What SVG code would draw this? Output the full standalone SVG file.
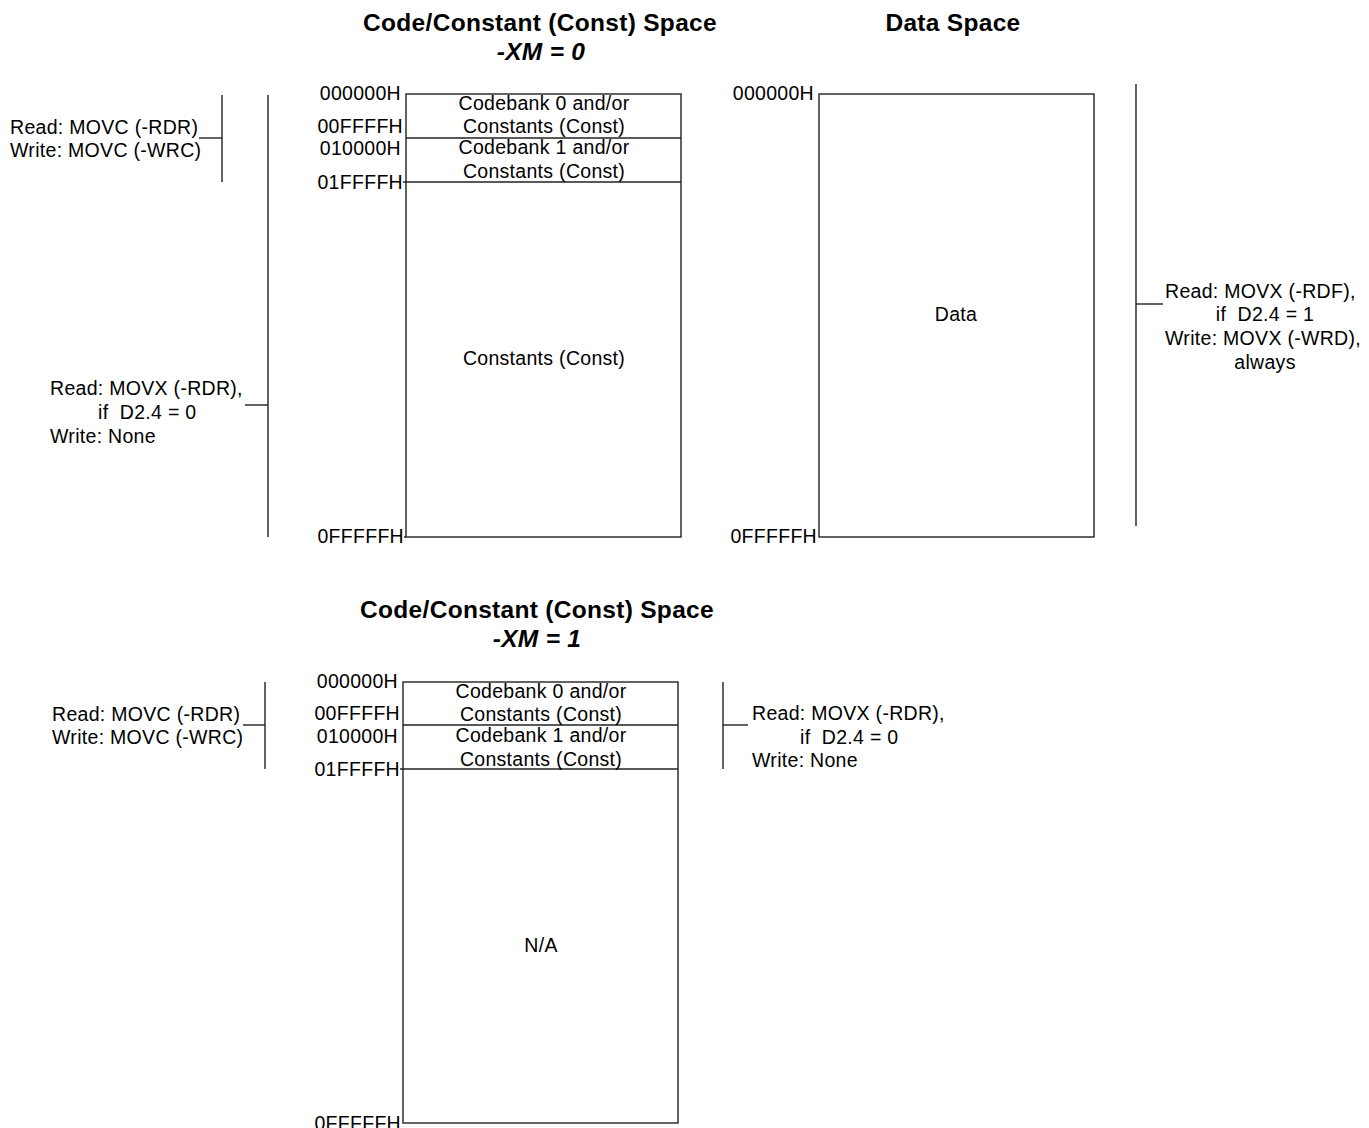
<svg xmlns="http://www.w3.org/2000/svg" width="1369" height="1128" viewBox="0 0 1369 1128">
<style>
.t{font-family:"Liberation Sans",Arial,sans-serif;font-size:19.5px;letter-spacing:0.3px;fill:#000;white-space:pre}
.m{text-anchor:middle}
.e{text-anchor:end}
.h{font-family:"Liberation Sans",Arial,sans-serif;font-size:24.5px;font-weight:bold;text-anchor:middle;fill:#000;letter-spacing:0.3px}
.i{font-style:italic}
.b{fill:#fff;stroke:#222;stroke-width:1.4}
.l{stroke:#222;stroke-width:1.4;fill:none}
</style>
<rect width="1369" height="1128" fill="#fff"/>
<g id="titles">
<text class="h" x="540" y="31">Code/Constant (Const) Space</text>
<text class="h i" x="541" y="60">-XM = 0</text>
<text class="h" x="953" y="31">Data Space</text>
<text class="h" x="537" y="618">Code/Constant (Const) Space</text>
<text class="h i" x="537" y="647">-XM = 1</text>
</g>
<g id="code-space-xm0">
<rect class="b" x="406" y="94" width="275" height="443"/>
<line class="l" x1="406" y1="138" x2="681" y2="138"/>
<line class="l" x1="403" y1="182" x2="681" y2="182"/>
<line class="l" x1="404" y1="537" x2="406" y2="537"/>
<text class="t m" x="544" y="110">Codebank 0 and/or</text>
<text class="t m" x="544" y="133">Constants (Const)</text>
<text class="t m" x="544" y="154">Codebank 1 and/or</text>
<text class="t m" x="544" y="178">Constants (Const)</text>
<text class="t m" x="544" y="365">Constants (Const)</text>
<text class="t e" x="401" y="100">000000H</text>
<text class="t e" x="403" y="133">00FFFFH</text>
<text class="t e" x="401" y="155">010000H</text>
<text class="t e" x="403" y="189">01FFFFH</text>
<text class="t e" x="404" y="543">0FFFFFH</text>
</g>
<g id="data-space">
<rect class="b" x="819" y="94" width="275" height="443"/>
<text class="t m" x="956" y="321">Data</text>
<text class="t e" x="814" y="100">000000H</text>
<text class="t e" x="817" y="543">0FFFFFH</text>
</g>
<g id="code-space-xm1">
<rect class="b" x="403" y="682" width="275" height="441"/>
<line class="l" x1="403" y1="725" x2="678" y2="725"/>
<line class="l" x1="400" y1="769" x2="678" y2="769"/>
<text class="t m" x="541" y="698">Codebank 0 and/or</text>
<text class="t m" x="541" y="721">Constants (Const)</text>
<text class="t m" x="541" y="742">Codebank 1 and/or</text>
<text class="t m" x="541" y="766">Constants (Const)</text>
<text class="t m" x="541" y="952">N/A</text>
<text class="t e" x="398" y="688">000000H</text>
<text class="t e" x="400" y="720">00FFFFH</text>
<text class="t e" x="398" y="743">010000H</text>
<text class="t e" x="400" y="776">01FFFFH</text>
<text class="t e" x="401" y="1130">0FFFFFH</text>
</g>
<g id="labels">
<text class="t" x="10" y="134">Read: MOVC (-RDR)</text>
<text class="t" x="10" y="157">Write: MOVC (-WRC)</text>
<text class="t" x="50" y="395">Read: MOVX (-RDR),</text>
<text class="t" x="98" y="419">if  D2.4 = 0</text>
<text class="t" x="50" y="443">Write: None</text>
<text class="t" x="1165" y="298">Read: MOVX (-RDF),</text>
<text class="t m" x="1265" y="321">if  D2.4 = 1</text>
<text class="t" x="1165" y="345">Write: MOVX (-WRD),</text>
<text class="t m" x="1265" y="369">always</text>
<text class="t" x="52" y="721">Read: MOVC (-RDR)</text>
<text class="t" x="52" y="744">Write: MOVC (-WRC)</text>
<text class="t" x="752" y="720">Read: MOVX (-RDR),</text>
<text class="t" x="800" y="744">if  D2.4 = 0</text>
<text class="t" x="752" y="767">Write: None</text>
</g>
<g id="connectors">
<line class="l" x1="222" y1="95" x2="222" y2="182"/>
<line class="l" x1="199" y1="138" x2="222" y2="138"/>
<line class="l" x1="268" y1="95" x2="268" y2="537"/>
<line class="l" x1="245" y1="405" x2="268" y2="405"/>
<line class="l" x1="1136" y1="84" x2="1136" y2="526"/>
<line class="l" x1="1136" y1="304" x2="1163" y2="304"/>
<line class="l" x1="265" y1="682" x2="265" y2="769"/>
<line class="l" x1="243" y1="725" x2="265" y2="725"/>
<line class="l" x1="723" y1="682" x2="723" y2="769"/>
<line class="l" x1="723" y1="725" x2="748" y2="725"/>
</g>
</svg>
